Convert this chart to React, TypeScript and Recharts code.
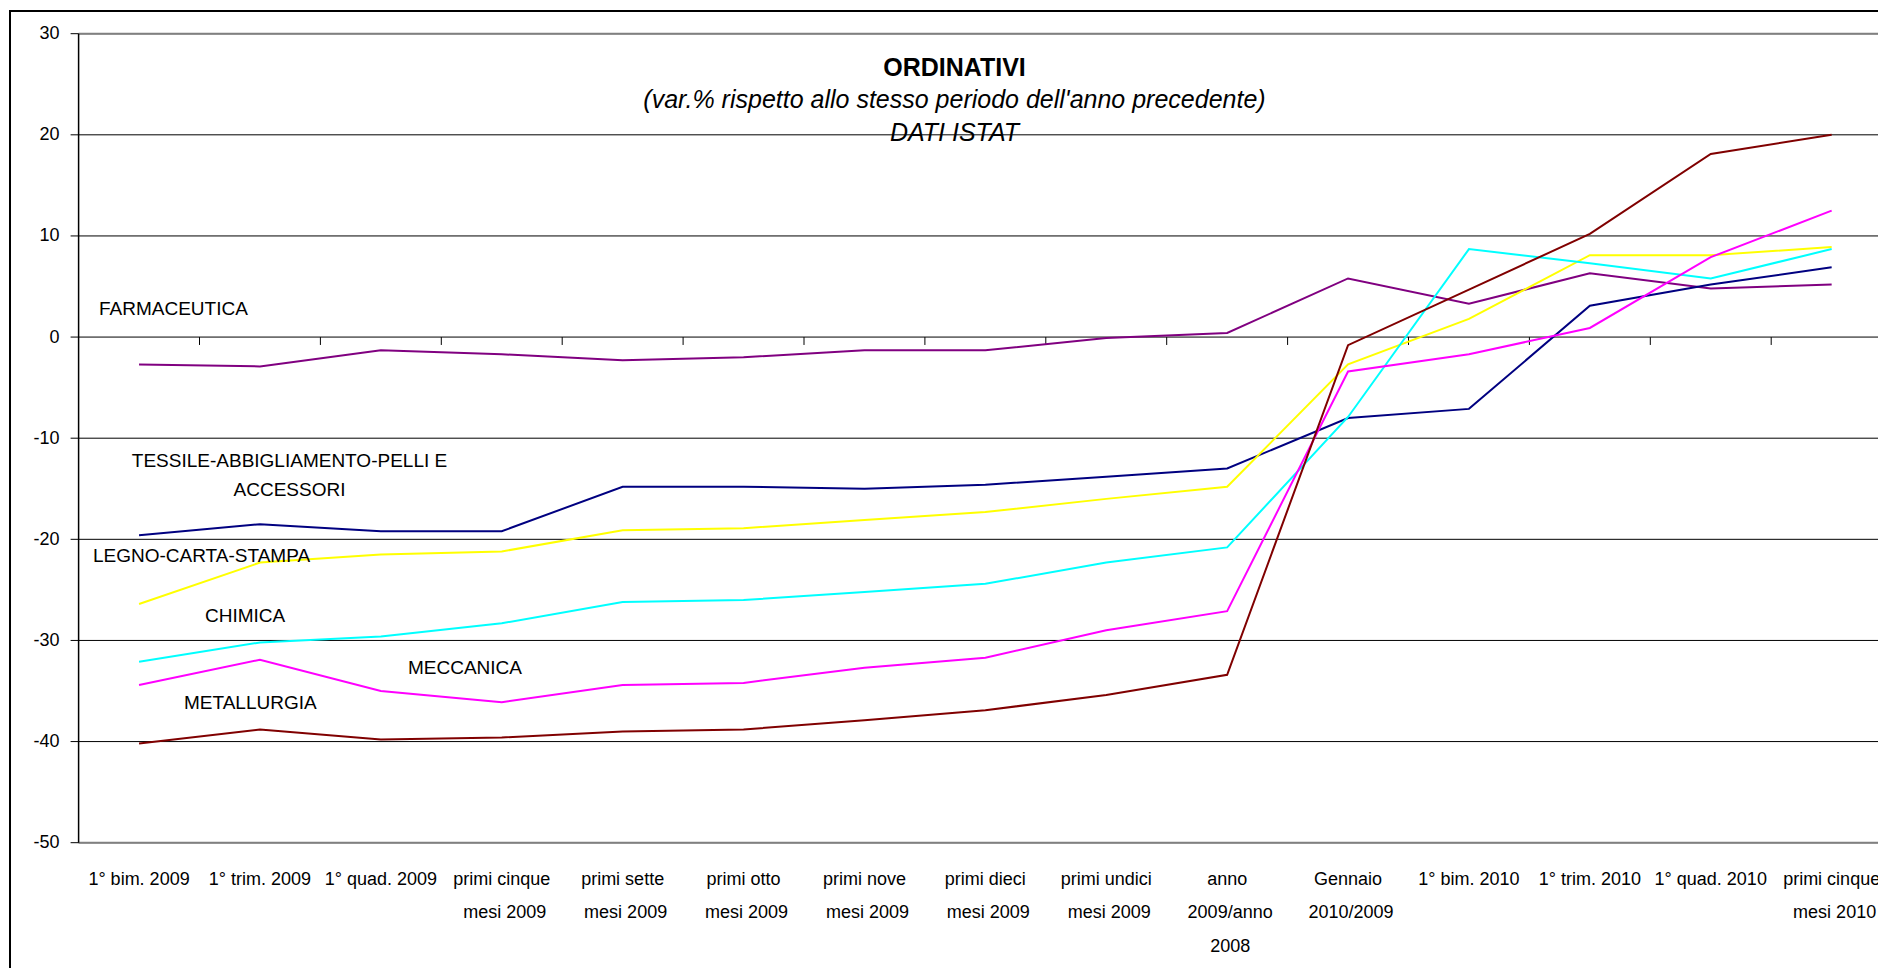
import React from "react";
import { LineChart, Line, XAxis, YAxis, CartesianGrid, ReferenceLine } from "recharts";

const categories = [
  "1° bim. 2009",
  "1° trim. 2009",
  "1° quad. 2009",
  "primi cinque\nmesi 2009",
  "primi sette\nmesi 2009",
  "primi otto\nmesi 2009",
  "primi nove\nmesi 2009",
  "primi dieci\nmesi 2009",
  "primi undici\nmesi 2009",
  "anno\n2009/anno\n2008",
  "Gennaio\n2010/2009",
  "1° bim. 2010",
  "1° trim. 2010",
  "1° quad. 2010",
  "primi cinque\nmesi 2010",
];

const farmaceutica = [-2.7, -2.9, -1.3, -1.7, -2.3, -2.0, -1.3, -1.3, -0.1, 0.4, 5.8, 3.3, 6.3, 4.8, 5.2];
const tessile = [-19.6, -18.5, -19.2, -19.2, -14.8, -14.8, -15.0, -14.6, -13.8, -13.0, -8.0, -7.1, 3.1, 5.2, 6.9];
const legno = [-26.4, -22.3, -21.5, -21.2, -19.1, -18.9, -18.1, -17.3, -16.0, -14.8, -2.7, 1.8, 8.1, 8.1, 8.9];
const chimica = [-32.1, -30.2, -29.6, -28.3, -26.2, -26.0, -25.2, -24.4, -22.3, -20.8, -7.9, 8.7, 7.3, 5.8, 8.7];
const meccanica = [-34.4, -31.9, -35.0, -36.1, -34.4, -34.2, -32.7, -31.7, -29.0, -27.1, -3.4, -1.7, 0.9, 7.9, 12.5];
const metallurgia = [-40.2, -38.8, -39.8, -39.6, -39.0, -38.8, -37.9, -36.9, -35.4, -33.4, -0.8, 4.7, 10.2, 18.1, 20.0];

const yTicks = [-50, -40, -30, -20, -10, 0, 10, 20, 30];

const seriesLabels = {
  farmaceutica: "FARMACEUTICA",
  tessile: "TESSILE-ABBIGLIAMENTO-PELLI E\nACCESSORI",
  legno: "LEGNO-CARTA-STAMPA",
  chimica: "CHIMICA",
  meccanica: "MECCANICA",
  metallurgia: "METALLURGIA",
};

const title = "ORDINATIVI";
const subtitle = "(var.% rispetto allo stesso periodo dell'anno precedente)";
const source = "DATI ISTAT";

const data = categories.map((c, i) => ({
  x: i + 0.5,
  cat: c,
  farmaceutica: farmaceutica[i],
  tessile: tessile[i],
  legno: legno[i],
  chimica: chimica[i],
  meccanica: meccanica[i],
  metallurgia: metallurgia[i],
}));

const xCenters = categories.map((_, i) => i + 0.5);
const boundaries = categories.slice(1).map((_, i) => i + 1);

const FONT = "'Liberation Sans', Arial, sans-serif";

const XTick = (props: any) => {
  const { x, y, payload } = props;
  const idx = Math.floor(payload.value);
  const lines = (categories[idx] || "").split("\n");
  return (
    <text x={x} y={y} textAnchor="middle" fontFamily={FONT} fontSize={18} fill="#000">
      {lines.map((l, k) => (
        <tspan key={k} x={x + (lines.length > 1 && k > 0 ? 3 : 0)} y={y + 42 + k * 33.5}>
          {l}
        </tspan>
      ))}
    </text>
  );
};

const YTick = (props: any) => {
  const { x, y, payload } = props;
  return (
    <text x={x} y={y + 5.5} textAnchor="end" fontFamily={FONT} fontSize={18} fill="#000">
      {payload.value}
    </text>
  );
};

const labelStyle: React.CSSProperties = {
  position: "absolute",
  fontFamily: FONT,
  fontSize: 19,
  lineHeight: "20px",
  color: "#000",
  whiteSpace: "nowrap",
};

export default function App() {
  return (
    <div style={{ position: "fixed", left: 0, top: 0, width: 1878, height: 968, overflow: "hidden", background: "#fff" }}>
      <div
        style={{
          position: "absolute",
          left: 9,
          top: 10,
          width: 2000,
          height: 1100,
          border: "2px solid #000",
          boxSizing: "border-box",
        }}
      />
      <div style={{ position: "absolute", left: 8, top: 8 }}>
        <LineChart
          width={1900}
          height={960}
          data={data}
          margin={{ top: 25.7, right: 15.9, left: 0, bottom: 0 }}
        >
          <CartesianGrid horizontal={true} vertical={false} stroke="#000" strokeWidth={1} />
          <XAxis
            dataKey="x"
            type="number"
            domain={[0, 15]}
            ticks={xCenters}
            interval={0}
            axisLine={false}
            tickLine={false}
            tickSize={0}
            tickMargin={0}
            height={125.3}
            tick={<XTick />}
          />
          <YAxis
            type="number"
            domain={[-50, 30]}
            ticks={yTicks}
            interval={0}
            width={70.6}
            axisLine={{ stroke: "#000", strokeWidth: 1.5 }}
            tickLine={{ stroke: "#000", strokeWidth: 1 }}
            tickSize={8}
            tickMargin={11}
            tick={<YTick />}
          />
          <ReferenceLine y={30} stroke="#808080" strokeWidth={2} />
          <ReferenceLine y={-50} stroke="#808080" strokeWidth={2} />
          {boundaries.map((b) => (
            <ReferenceLine
              key={b}
              segment={[
                { x: b, y: 0 },
                { x: b, y: -0.78 },
              ]}
              stroke="#000"
              strokeWidth={1}
            />
          ))}
          <Line type="linear" dataKey="farmaceutica" stroke="#800080" strokeWidth={2} dot={false} activeDot={false} isAnimationActive={false} />
          <Line type="linear" dataKey="tessile" stroke="#000080" strokeWidth={2} dot={false} activeDot={false} isAnimationActive={false} />
          <Line type="linear" dataKey="legno" stroke="#FFFF00" strokeWidth={2} dot={false} activeDot={false} isAnimationActive={false} />
          <Line type="linear" dataKey="chimica" stroke="#00FFFF" strokeWidth={2} dot={false} activeDot={false} isAnimationActive={false} />
          <Line type="linear" dataKey="meccanica" stroke="#FF00FF" strokeWidth={2} dot={false} activeDot={false} isAnimationActive={false} />
          <Line type="linear" dataKey="metallurgia" stroke="#800000" strokeWidth={2} dot={false} activeDot={false} isAnimationActive={false} />
        </LineChart>
      </div>

      <div
        style={{
          position: "absolute",
          left: 554.5,
          top: 50.5,
          width: 800,
          textAlign: "center",
          fontFamily: FONT,
          fontSize: 25,
          lineHeight: "32.5px",
          color: "#000",
        }}
      >
        <div style={{ fontWeight: "bold" }}>{title}</div>
        <div style={{ fontStyle: "italic" }}>{subtitle}</div>
        <div style={{ fontStyle: "italic" }}>{source}</div>
      </div>

      <div style={{ ...labelStyle, left: 99, top: 299 }}>{seriesLabels.farmaceutica}</div>
      <div style={{ ...labelStyle, left: 89.5, width: 400, top: 446, textAlign: "center", lineHeight: "29.3px" }}>
        {seriesLabels.tessile.split("\n").map((l, k) => (
          <div key={k}>{l}</div>
        ))}
      </div>
      <div style={{ ...labelStyle, left: 93, top: 545.7 }}>{seriesLabels.legno}</div>
      <div style={{ ...labelStyle, left: 205, top: 606 }}>{seriesLabels.chimica}</div>
      <div style={{ ...labelStyle, left: 408, top: 658 }}>{seriesLabels.meccanica}</div>
      <div style={{ ...labelStyle, left: 184, top: 693 }}>{seriesLabels.metallurgia}</div>
    </div>
  );
}
